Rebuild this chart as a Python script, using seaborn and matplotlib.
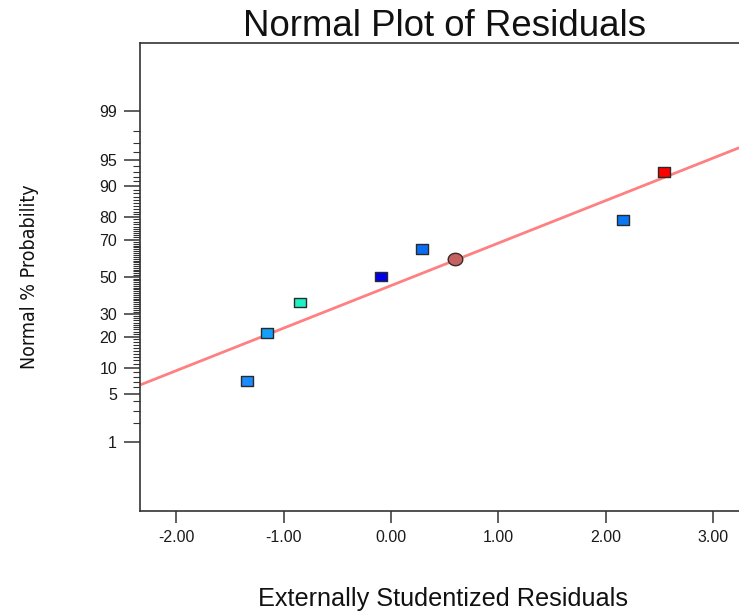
from statistics import NormalDist

import numpy as np
import pandas as pd
import matplotlib
matplotlib.use("Agg")
import matplotlib.pyplot as plt
from matplotlib.path import Path
from matplotlib.ticker import FixedLocator, FixedFormatter
import seaborn as sns

# Residuals and their normal-probability positions (percent)
residuals = [-1.341, -1.155, -0.847, -0.093, 0.289, 0.596, 2.160, 2.542]
normal_pct = [7.2, 21.6, 35.9, 50.3, 65.1, 59.8, 78.8, 93.0]
point_colors = ["#1A8CFF", "#12A0FA", "#1EF2C4", "#0000EC",
                "#0A6EF5", "#C46262", "#0A78F2", "#FF0000"]
point_shapes = ["square", "square", "square", "square",
                "square", "circle", "square", "square"]

# Reference line on the probit scale: z = intercept + slope * residual
line_intercept = -0.123
line_slope = 0.5977

major_pct = [1, 5, 10, 20, 30, 50, 70, 80, 90, 95, 99]
major_labels = ["1", "5", "10", "20", "30", "50", "70", "80", "90", "95", "99"]
x_ticks = [-2, -1, 0, 1, 2, 3]
x_labels = ["-2.00", "-1.00", "0.00", "1.00", "2.00", "3.00"]

sns.set_theme(style="white")
plt.rcParams["font.family"] = ["Liberation Sans", "DejaVu Sans"]

_nd = NormalDist()
_ppf = np.vectorize(lambda v: _nd.inv_cdf(v), otypes=[float])
_cdf = np.vectorize(lambda v: _nd.cdf(v), otypes=[float])


def probit(p):
    p = np.clip(np.asarray(p, dtype=float) / 100.0, 1e-9, 1 - 1e-9)
    return _ppf(p)


def inv_probit(z):
    return _cdf(np.asarray(z, dtype=float)) * 100.0


fig = plt.figure(figsize=(7.39, 6.12), dpi=100)
ax = fig.add_axes([140 / 739, 1 - 511 / 612, 1 - 140 / 739, (511 - 42.7) / 612])
ax.set_yscale("function", functions=(probit, inv_probit))

df = pd.DataFrame({"res": residuals, "pct": normal_pct,
                   "color": point_colors, "shape": point_shapes})
df["id"] = range(len(df))

# fitted reference line
line_x = np.linspace(-2.6, 3.5, 300)
line_pct = inv_probit(line_intercept + line_slope * line_x)
sns.lineplot(x=line_x, y=line_pct, color="#FF8080", linewidth=2.0, ax=ax, zorder=2)

rect = Path([(-1.0, -0.8), (1.0, -0.8), (1.0, 0.8), (-1.0, 0.8), (-1.0, -0.8)],
            [Path.MOVETO, Path.LINETO, Path.LINETO, Path.LINETO, Path.CLOSEPOLY])
theta = np.linspace(0, 2 * np.pi, 60)
ellipse = Path(np.column_stack([np.cos(theta), 0.85 * np.sin(theta)]), closed=True)

sq = df[df["shape"] == "square"]
sns.scatterplot(data=sq, x="res", y="pct", hue="id",
                palette=dict(zip(sq["id"], sq["color"])), marker=rect, s=75,
                edgecolor="#2a2a2a", linewidth=1.0, legend=False, ax=ax, zorder=3)
ci = df[df["shape"] == "circle"]
sns.scatterplot(data=ci, x="res", y="pct", hue="id",
                palette=dict(zip(ci["id"], ci["color"])), marker=ellipse, s=110,
                edgecolor="#3a2a2a", linewidth=1.0, legend=False, ax=ax, zorder=3)

ax.set_xlim(-2.337, 3.24)
ax.set_ylim(0.05, 99.95)

ax.yaxis.set_major_locator(FixedLocator(major_pct))
ax.yaxis.set_major_formatter(FixedFormatter(major_labels))
minor_pct = [v for v in range(1, 100) if v not in major_pct]
ax.yaxis.set_minor_locator(FixedLocator(minor_pct))
ax.yaxis.set_minor_formatter(FixedFormatter([""] * len(minor_pct)))
ax.set_xticks(x_ticks)
ax.set_xticklabels(x_labels)

ax.tick_params(axis="y", which="major", left=True, length=11.5, width=1.1,
               color="#333333", pad=5, labelsize=11.5, labelcolor="#1a1a1a")
ax.tick_params(axis="y", which="minor", left=True, length=5, width=0.8, color="#333333")
ax.tick_params(axis="x", which="major", bottom=True, length=8.6, width=1.1,
               color="#333333", pad=5, labelsize=11.5, labelcolor="#1a1a1a")

for side in ["left", "top", "bottom"]:
    ax.spines[side].set_color("#333333")
    ax.spines[side].set_linewidth(1.2)
ax.spines["right"].set_visible(False)

ax.set_title("Normal Plot of Residuals", fontsize=26.4, pad=5, color="#111111", x=0.508)
ax.set_xlabel("Externally Studentized Residuals", fontsize=18.2, labelpad=30, color="#111111")
ax.xaxis.label.set_x(0.506)
ax.set_ylabel("Normal % Probability", fontsize=14, labelpad=43, color="#111111",
              family=["DejaVu Sans"], fontstretch="condensed")

fig.savefig("out.png", dpi=100)
